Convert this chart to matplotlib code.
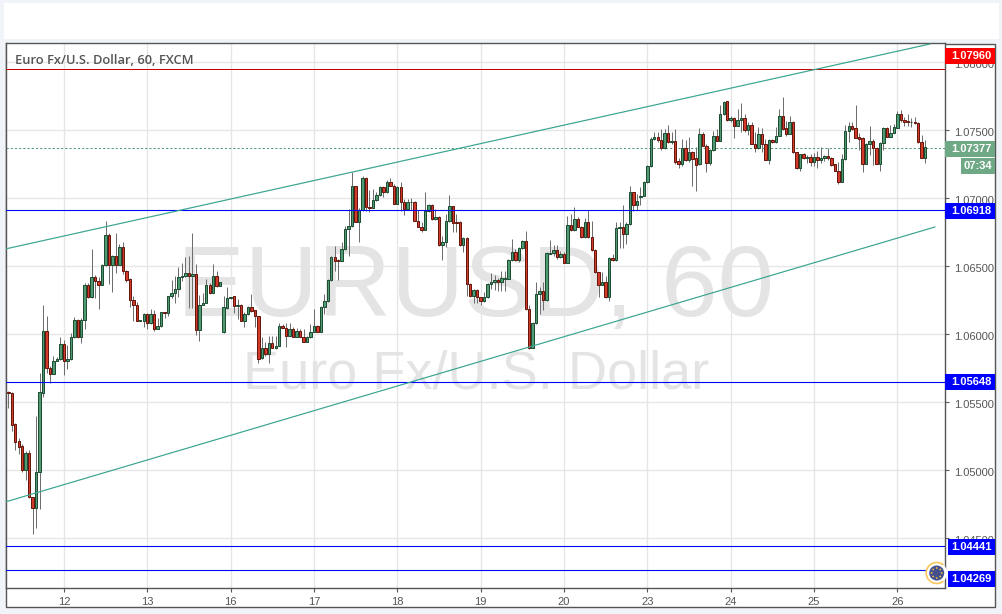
import matplotlib
matplotlib.use("Agg")
import matplotlib.pyplot as plt
from matplotlib.patches import Rectangle, Circle, Arc
from matplotlib.transforms import ScaledTranslation

BASE_PRICE = 1.05
PIP = 0.0001

# candle values in pips above 1.05000
opens = [57.6,56.6,34,21.3,17.6,0.5,12.5,-20,-27.5,-1.5,
57.1,102.2,75,71,80,81.6,92.6,80,81.6,97.8,
110.3,98.3,110.3,136,127.7,142,139.5,136.5,150.7,172.8,
151.2,157.4,151.2,164,146.8,140.7,125,121.8,110,110,
114.7,108,114.7,104,106.4,116.2,115.9,128,130,133,
142.4,142.6,144.9,143,144,103.4,121.3,123.3,136,130.6,
142.6,135.8,102,119.4,126.5,127.9,120.6,121.6,110,114.7,
119.9,117.6,113.2,82.4,89.7,85.3,93.4,90.2,91.7,105.9,
104.9,99,103.7,98.3,102.4,98.3,94.6,97.8,101.7,106.1,
102,120.1,124.3,139.7,156.6,154.6,154.2,162.7,177.2,179.4,
208.8,182.8,191.7,214.7,193.9,193.1,198.5,202.5,208.1,204.4,
211.8,209.3,196.1,208.1,197.5,192.2,197,197.5,183.6,179.2,
177,190.4,195.1,184.6,186,165.4,167.6,183.1,194.1,182.6,
182.6,165.9,170.6,137.3,127.9,132.4,127.2,124.8,127.2,136.8,
138.2,139.7,138.7,141,141,154.7,160.3,154.7,163.2,168.6,
118.4,89.7,108.1,129.4,131.6,125.5,159.1,159.6,161.8,156.6,
159.1,152.7,180.4,176.5,184.8,179.2,171.8,182.4,171.3,162.3,
145.6,136.5,138.2,127.2,155.9,154.4,177.9,178.9,174,180.9,
204.4,195.3,201.2,202,211.8,223.5,243.6,244.9,243.1,236.8,
247.8,241.2,241.9,227.5,225,237,228.4,233.8,229.4,225,
247,238.7,226.2,235.3,245.6,242.4,261.8,271.3,257.8,258.8,
253.4,257.8,258.8,250.5,253.9,240.2,236.8,247,239.7,228.4,
242.6,241.2,246,260.3,251.5,247.5,255.9,233.8,222,232.4,
229.4,230.1,227,230.1,228.4,230,231,229.9,225,220.3,
212.3,228.7,249.3,252.9,251.5,244.9,244.1,225.5,239.7,241.9,
236.8,225.5,240.4,251.5,245.3,248.3,252,261.8,257.8,256.9,
255.9,256.4,255.2,241.2,229.9]
closes = [56.6,33.6,21,17.4,0.5,12.5,-20,-27.5,-1.5,57.6,
102.2,75,71,80,81.6,92.6,80,81.6,97.8,110.3,
98.3,110.3,136,127.7,142,139.5,136.5,150.7,172.8,151.2,
157.4,151.2,164,146.8,140.2,125,121.8,110,110.5,114.7,
108,114.7,104,106.4,116.2,115.9,128,130,133,142.4,
142.6,144.9,143,144,103.4,121.3,123.3,136,130.6,142.6,
135.8,138.2,119.9,126.5,127.2,120.6,121.6,110,114.7,119.9,
117.4,113.2,81.9,89.7,85.3,93.4,90.2,91.7,105.9,104.9,
99,103.7,98.3,102.4,98.3,94.6,97.8,101.7,106.1,102,
120.1,124.3,139.7,156.6,154.2,154.2,162.7,177.2,179.4,208.8,
182.8,191.7,214.7,193.6,193.1,198.5,202.5,208.1,204.4,211.8,
209.3,196.1,208.1,197.5,192.2,197,197.5,183.6,179.2,177,
190.4,195.1,184.6,186,165.4,167.6,183.1,194.1,181.9,181.9,
165.9,170.6,137.3,127.9,132.4,127.2,124.8,127.2,136.8,138.2,
139.7,138.7,141.2,141.4,154.7,160.3,154.7,163.2,168.6,118.4,
89.7,108.1,129.4,131.6,125.5,159.6,159.6,161.8,156.6,159.1,
152.7,180.4,176.5,184.8,179.2,171.8,182.4,171.3,162.3,145.6,
136.5,138.2,127.2,155.9,154.4,177.9,178.9,174,180.9,204.4,
195.3,197.8,202,211.8,223.5,243.6,244.9,243.1,236.8,247.8,
241.2,241.9,227,225,237,228.4,233.8,229,224.8,247,
238.7,226.2,235.3,245.6,242.4,261.8,271,257.8,258.8,253.4,
257.8,258.8,250.5,253.9,240.2,236.8,247,239.7,228.4,242.6,
241.2,246,260.3,251,247.5,255.9,233.8,222,232.4,229.4,
230.1,227,230.1,228.4,230,231,229.9,224.5,220.3,212.3,
228.7,249.3,252.9,251,244.6,243.9,225.5,239.7,241.9,236.8,
225.5,240.4,251.5,245.3,248.3,252.5,261.8,257.8,256.4,255.9,
256.4,255.2,241.2,229.9,237.7]
highs = [58,57.6,34.6,23.8,19.4,14.2,15,-19.4,40,71.3,
121.6,113.5,77,84,83.6,97.8,96,92,100.7,113,
111.3,111.8,137.5,137.5,163,143.4,142,151.5,183.3,174.3,
158,174.3,166.4,168,147.3,141.2,128.2,124,110.5,116,
115.4,118.4,118,112,116.7,116.2,128.4,140,143,149.8,
152.7,156.6,157.6,174.3,151.7,128.9,130,140.7,137.5,151.7,
146.3,138.5,128.2,134.6,127.7,128.2,126,122.3,116.2,121,
129.7,118.1,113.7,98,94.6,99,99,99,108.3,107.6,
108.3,108.3,105.1,104.4,103.9,103.9,99,107.6,118.6,106.9,
121,129.7,140.7,157.8,164.7,155.4,167.6,179.9,192,219.6,
209.3,192.6,216.2,215.7,206,206.9,204.4,209.3,209.3,213.7,
214.7,210.3,209.3,211.8,199.5,199.5,200,198.3,191.4,182.4,
204.9,195.8,195.8,192,187.3,172.5,188.5,202.5,194.6,188.5,
183.3,171.3,171.3,137.7,133.3,133.3,127.7,130.9,137.7,145.1,
143.6,141.2,146.8,146.8,155.4,170,162.7,164,169.1,176,
121.6,109.3,138.2,134.6,138.2,160.3,169.6,165.7,165.7,161.5,
160.8,187.3,188.5,193.4,186,179.9,185.3,191.7,183.6,162.7,
146.1,145.6,143.1,156.6,159,182.8,182.4,195.1,182.4,209.3,
204.9,203.2,208,213,224.5,244.9,248.5,249,251,251,
254,248.5,251,230,243.6,243.1,244.9,235,237.5,251.7,
248.5,240,236.3,249.5,251,268.6,271.8,271.8,260.8,259.6,
266,270,262,256,256.4,248.5,252.5,251.5,243.6,243.6,
243.6,252.2,265.7,274.3,257,260.3,257,234.3,232.8,233.3,
231.9,232.4,233.3,235,237.5,231.9,237.3,230.1,225.5,226.5,
232.6,253.9,255.9,255.9,268.6,247.8,244.9,240.7,253.4,243.6,
237.5,241.2,252.2,252.2,253.9,254.6,264.2,264.7,259.6,262.3,
258.8,259.8,255.9,246.6,242.9]
lows = [45.6,29.2,15,12,-1,-7,-20.6,-46.8,-42.4,-28.4,
54.2,71.3,64,71,80,81,70,74.5,81,97,
97.5,93.9,104,127,126.7,126.7,118.6,136,150.2,137,
131,144.9,151,144.4,138.7,120.3,110,110,110,105.6,
103.7,107.6,102.7,103.7,105.6,111.8,113.7,126.5,123.3,127.2,
139.5,142,119,119,99.5,95,121.3,122.8,129.7,130,
135,135.5,100.7,118.9,126.2,115.4,111,109.6,105.1,114.2,
116.7,105.1,78.9,81.9,84.3,78.9,89.7,89.2,91.2,104.4,
90.9,98.5,97.8,97.8,97.8,94.1,94.1,97.3,101.5,101.5,
101.5,114.7,124,139.5,146.8,140.2,153.9,162.2,157.8,178.7,
182.4,167.6,190.4,190.4,189.7,192.6,198,202,200.7,203.9,
208.8,195.6,195.6,190.9,188,191.7,191.7,183.1,178.7,175.5,
176.5,189.7,184.1,184.1,164.7,154.7,164.5,182.4,175.5,175.5,
165.2,160.3,127.9,127.2,123,123,121.8,123.5,126.7,133.3,
132.4,132.1,132.1,132.1,140.7,154.2,154.2,153.4,162.7,118.1,
89.2,89.7,107.6,115,117.9,124.8,159,157.8,155.4,155.9,
152.2,152.2,176,176,178.7,171.1,171.1,170.8,161.5,145.1,
127.7,136.3,126.5,124.8,153.9,153.9,163.2,163.2,166.4,180.4,
190.9,191.7,195,201.5,211.3,222.8,243.1,241.2,235.8,236.3,
240.7,240,225.2,222,224,227.7,226.5,209.3,205.6,224.5,
238.2,219.6,224.5,234.8,241.9,241.9,261.3,257,256.4,244.6,
253,249,249,246.6,239.7,233.8,236.3,233.8,228,225.5,
240.7,240.7,245.6,250.5,246,247,233.3,221.6,220.3,228.9,
226,223.5,223.5,222,226,227.7,228.4,224,219.9,210.8,
211.8,228.2,241.7,250.5,244.1,235.8,219.6,225,231.9,224.5,
225,220.1,235.8,244.9,244.9,247.8,251.5,256.4,252.9,252.9,
252.5,254.7,240.7,229.4,226]

price_ticks = [1.045, 1.05, 1.055, 1.06, 1.065, 1.07, 1.075, 1.08]
day_positions = [16, 40, 64, 88, 112, 136, 160, 184, 208, 232, 256]
day_labels = ["12", "13", "16", "17", "18", "19", "20", "23", "24", "25", "26"]
blue_levels = [1.06912, 1.05648, 1.04441, 1.04269]
red_level = 1.0795
last_price = 1.0737
channel_upper_x, channel_upper_y = [-0.58, 265.4], [1.06629, 1.08135]
channel_lower_x, channel_lower_y = [-0.58, 266.8], [1.04769, 1.06789]

plt.rcParams['font.family'] = ['Liberation Sans', 'DejaVu Sans']
W, H = 1002, 614
PX = 0.72
GREY = '#555555'
fig = plt.figure(figsize=(W / 100, H / 100), dpi=100, facecolor='#f0f3f8')

# page chrome behind the chart
back = fig.add_axes([0, 0, 1, 1], zorder=0)
back.set_xlim(0, W); back.set_ylim(H, 0); back.axis('off')
back.add_patch(Rectangle((4, 3), 995, 36, fc='white', ec='none'))
back.add_patch(Rectangle((6, 43.5), 989.5, 563.5, fc='white', ec=GREY, lw=1.0))

# main chart
ax = fig.add_axes([6.3 / W, 1 - 588.3 / H, 939 / W, 545 / H], zorder=1)
ax.set_facecolor('white')
ax.set_xlim(-0.576, 269.8)
ax.set_ylim(1.04132, 1.0814)
for s in ('top', 'left', 'right', 'bottom'):
    ax.spines[s].set_color(GREY)
    ax.spines[s].set_linewidth(1.0)
ax.set_xticks(day_positions, day_labels)
ax.set_yticks(price_ticks, [f"{p:.5f}" for p in price_ticks])
ax.yaxis.tick_right()
ax.tick_params(colors=GREY, labelsize=8, length=3, width=0.8, pad=3)
nudge = ScaledTranslation(0, -1.3 / 100, fig.dpi_scale_trans)
for lab in ax.get_yticklabels():
    lab.set_transform(lab.get_transform() + nudge)
ax.grid(True, color='#e6e6e6', lw=1.0)
ax.set_axisbelow(True)

ax.text(0.5, 0.548, "EURUSD, 60", transform=ax.transAxes, ha='center', va='center',
        fontsize=73, color='#e4e4e4', zorder=1.1, family=['Liberation Sans'])
ax.text(0.5, 0.393, "Euro Fx/U.S. Dollar", transform=ax.transAxes, ha='center', va='center',
        fontsize=39, color='#e4e4e4', zorder=1.1, family=['Liberation Sans'])

xs = list(range(len(opens)))
to_price = lambda v: BASE_PRICE + v * PIP
ax.vlines(xs, [to_price(v) for v in lows], [to_price(v) for v in highs],
          color='#6e6e6e', lw=PX, zorder=2)
for i in xs:
    up = closes[i] >= opens[i]
    bottom = to_price(min(opens[i], closes[i]))
    height = abs(closes[i] - opens[i]) * PIP
    ax.bar(i, height, bottom=bottom, width=0.7,
           color='#4f9a73' if up else '#d23a2a',
           edgecolor='#1e4d33' if up else '#66180e', linewidth=PX, zorder=3)

for y in blue_levels:
    ax.axhline(y, color='#0000ff', lw=PX * 1.1, zorder=4)
ax.axhline(red_level, color='#c80000', lw=PX, zorder=4)
ax.axhline(last_price, color='#4f9a73', lw=PX, ls=(0, (2.2, 2)), zorder=2.5)
ax.plot(channel_upper_x, channel_upper_y, color='#3aa592', lw=PX * 1.2, zorder=4)
ax.plot(channel_lower_x, channel_lower_y, color='#3aa592', lw=PX * 1.2, zorder=4)

# title, price flags and the currency badge on top of everything
top = fig.add_axes([0, 0, 1, 1], zorder=2)
top.set_xlim(0, W); top.set_ylim(H, 0); top.axis('off'); top.patch.set_alpha(0)
top.text(15.5, 60.5, "Euro Fx/U.S. Dollar, 60, FXCM", ha='left', va='center', fontsize=9.25,
         color=GREY, family=['Open Sans'], weight='semibold')

flags = [("1.07960", 48, 64, 945.5, '#ff0000'),
         ("1.07377", 141, 157, 945.5, '#6fa885'),
         ("1.06918", 203, 219, 945.5, '#0000ff'),
         ("1.05648", 374, 390, 945.5, '#0000ff'),
         ("1.04441", 539, 555, 948.5, '#0000ff'),
         ("1.04269", 571, 587, 948.5, '#0000ff')]
for label, y0, y1, x0, col in flags:
    top.add_patch(Rectangle((x0, y0), 995 - x0, y1 - y0, fc=col, ec='none'))
    top.text(971.5, (y0 + y1) / 2 + 0.3, label, color='white', fontsize=8, weight='bold',
             ha='center', va='center')
top.add_patch(Rectangle((961, 158), 34, 16, fc='#6fa885', ec='none'))
top.text(978, 166.3, "07:34", color='white', fontsize=8, weight='bold', ha='center', va='center')

top.add_patch(Circle((936.7, 573), 10.5, fc='white', ec='none'))
top.add_patch(Arc((936.7, 573), 21, 21, theta1=50, theta2=310, color='#fbc65a', lw=1.2))
top.add_patch(Circle((936.7, 573), 7.5, fc='#41508c', ec='none'))
for dx, dy in [(0, -5), (3.5, -3.5), (5, 0), (3.5, 3.5), (0, 5), (-3.5, 3.5), (-5, 0), (-3.5, -3.5)]:
    top.add_patch(Circle((936.7 + dx, 573 + dy), 0.9, fc='#f5b942', ec='none'))

fig.savefig('out.png', dpi=100, facecolor=fig.get_facecolor())
